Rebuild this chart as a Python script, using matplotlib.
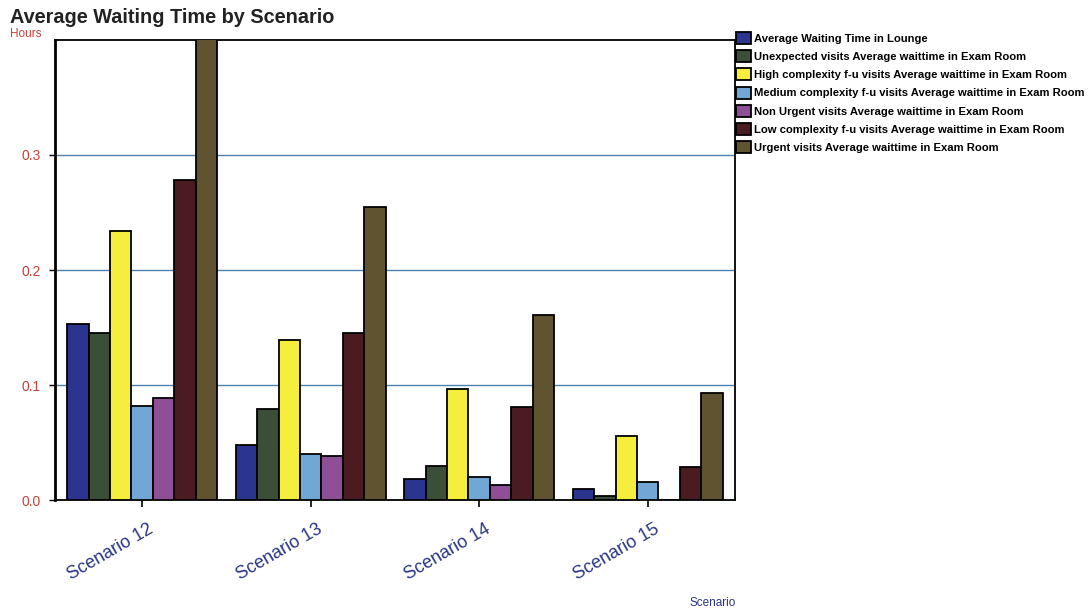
import numpy as np
import matplotlib
matplotlib.use('Agg')
import matplotlib.pyplot as plt
import matplotlib.transforms as mtransforms

# Scenarios on the x axis
scenarios = ['Scenario 12', 'Scenario 13', 'Scenario 14', 'Scenario 15']

# Average waiting time (hours) per series, one value per scenario
lounge = [0.153, 0.048, 0.018, 0.010]
unexpected = [0.145, 0.079, 0.030, 0.004]
high_complexity = [0.234, 0.139, 0.097, 0.056]
medium_complexity = [0.082, 0.040, 0.020, 0.016]
non_urgent = [0.089, 0.038, 0.013, 0.0]
low_complexity = [0.278, 0.145, 0.081, 0.029]
urgent = [0.41, 0.255, 0.161, 0.093]

series_names = [
    'Average Waiting Time in Lounge',
    'Unexpected visits Average waittime in Exam Room',
    'High complexity f-u visits Average waittime in Exam Room',
    'Medium complexity f-u visits Average waittime in Exam Room',
    'Non Urgent visits Average waittime in Exam Room',
    'Low complexity f-u visits Average waittime in Exam Room',
    'Urgent visits Average waittime in Exam Room',
]
series_values = [lounge, unexpected, high_complexity, medium_complexity,
                 non_urgent, low_complexity, urgent]
colors = ['#2b3590', '#3b4e38', '#f6ee3c', '#72a6d4', '#8f4f96', '#4a1b20', '#5f5330']

plt.rcParams['font.family'] = ['Liberation Sans', 'DejaVu Sans']

fig = plt.figure(figsize=(10.91, 6.13), dpi=100)
ax = fig.add_axes([0.050, 0.184, 0.624, 0.751])

x = np.arange(len(scenarios))
width = 0.127
n = len(series_values)

for i, (vals, col, name) in enumerate(zip(series_values, colors, series_names)):
    offset = (i - (n - 1) / 2) * width
    ax.bar(x + offset, vals, width, color=col, edgecolor='black',
           linewidth=1.3, label=name, zorder=3)

# Axes limits and ticks
ax.set_xlim(-0.52, 3.52)
ax.set_ylim(0, 0.40)
ax.set_yticks([0.0, 0.1, 0.2, 0.3])
ax.set_yticklabels(['0.0', '0.1', '0.2', '0.3'], color='#c8403a', fontsize=10)
ax.set_xticks(x)
ax.set_xticklabels(scenarios, rotation=30, ha='right', va='center',
                   rotation_mode='anchor', color='#2a3585', fontsize=13)
ax.tick_params(axis='x', length=5, width=1.2, pad=15)
ax.tick_params(axis='y', length=4, width=1, pad=6)

# nudge the rotated scenario labels so they end just past the tick
shift = mtransforms.ScaledTranslation(10 / 100, 0, fig.dpi_scale_trans)
for lbl in ax.get_xticklabels():
    lbl.set_transform(lbl.get_transform() + shift)

# Horizontal gridlines
for yv in [0.1, 0.2, 0.3]:
    ax.axhline(yv, color='#4d80ad', linewidth=1, zorder=1)

for sp in ax.spines.values():
    sp.set_linewidth(1.3)
    sp.set_color('black')
ax.spines['left'].set_linewidth(2)

# Title and axis labels
fig.text(0.009, 0.972, 'Average Waiting Time by Scenario', fontsize=14.3,
         fontweight='bold', color='#222222', ha='left', va='center')
fig.text(0.009, 0.944, 'Hours', fontsize=8.5, color='#c8403a',
         ha='left', va='center')
fig.text(0.653, 0.016, 'Scenario', fontsize=8.5, color='#2a3585',
         ha='center', va='center')

# Legend outside on the right
leg = fig.legend(loc='upper left', bbox_to_anchor=(0.6705, 0.955),
                 frameon=False, handlelength=1.3, handleheight=1.25,
                 handletextpad=0.3, labelspacing=0.56, borderaxespad=0,
                 prop={'family': ['Liberation Sans', 'DejaVu Sans'],
                       'weight': 'bold', 'size': 8.1})

fig.savefig('out.png', dpi=100)
